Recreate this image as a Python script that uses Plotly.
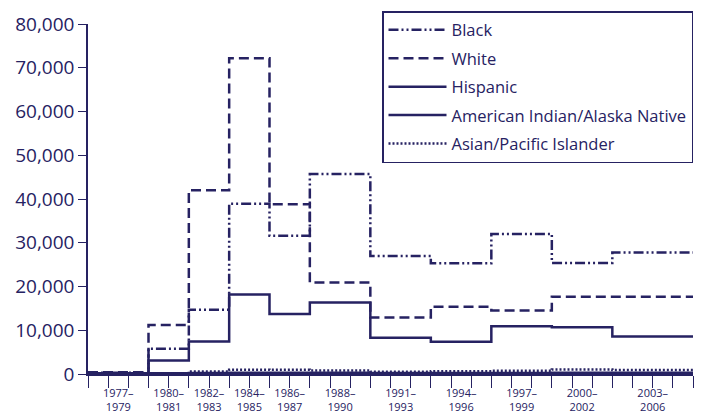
import plotly.graph_objects as go

# Period start years (step boundaries) and final end year
period_starts = [1977, 1980, 1982, 1984, 1986, 1988, 1991, 1994, 1997, 2000, 2003]
period_end = 2007
period_labels = ["1977–<br>1979", "1980–<br>1981", "1982–<br>1983", "1984–<br>1985",
                 "1986–<br>1987", "1988–<br>1990", "1991–<br>1993", "1994–<br>1996",
                 "1997–<br>1999", "2000–<br>2002", "2003–<br>2006"]

black = [300, 5800, 14700, 38900, 31600, 45700, 27000, 25300, 32000, 25400, 27800]
white = [400, 11200, 42000, 72200, 38800, 20900, 12900, 15400, 14500, 17650, 17650]
hispanic = [200, 3100, 7450, 18200, 13700, 16350, 8300, 7400, 10900, 10700, 8600]
am_indian = [150, 200, 250, 300, 300, 300, 250, 250, 250, 300, 300]
asian = [100, 150, 600, 1000, 950, 800, 500, 650, 750, 1050, 900]

NAVY = "#262262"
FONT = "Open Sans"

fig = go.Figure()

series = [
    ("Black", black, "10px,3px,2px,3px,2px,3px"),
    ("White", white, "10px,5px"),
    ("Hispanic", hispanic, "solid"),
    ("American Indian/Alaska Native", am_indian, "solid"),
    ("Asian/Pacific Islander", asian, "2px,2px"),
]

xs = period_starts + [period_end]
for name, vals, dash in series:
    ys = vals + [vals[-1]]
    fig.add_trace(go.Scatter(
        x=xs, y=ys, mode="lines", name=name, legendgroup=name,
        line=dict(color=NAVY, width=2.5, dash=dash, shape="hv"),
    ))

centers = [(a + b) / 2 + 0.001 for a, b in zip(period_starts, period_starts[1:] + [period_end])]

fig.update_layout(
    width=701, height=414,
    margin=dict(l=88, r=8, t=24, b=40, autoexpand=False),
    paper_bgcolor="white", plot_bgcolor="white",
    font=dict(family=FONT, color=NAVY),
    showlegend=True,
    legend=dict(
        xref="container", yref="container",
        x=382 / 701, y=1 - 11 / 414, xanchor="left", yanchor="top",
        bordercolor=NAVY, borderwidth=1.5, bgcolor="white",
        font=dict(size=16.5, family=FONT, color=NAVY),
        itemwidth=58, tracegroupgap=4,
    ),
    xaxis=dict(
        range=[1977, 2007], showgrid=False, zeroline=False, automargin=False,
        showline=True, linecolor=NAVY, linewidth=1.5,
        tickvals=centers, ticktext=period_labels,
        ticks="outside", ticklen=8, tickcolor="rgba(0,0,0,0)",
        tickfont=dict(size=11, color=NAVY),
        minor=dict(ticks="outside", tick0=1977, dtick=1, ticklen=12,
                   tickcolor=NAVY, tickwidth=1.2, showgrid=False),
    ),
    yaxis=dict(
        range=[0, 80000], showgrid=False, zeroline=False, automargin=False,
        showline=True, linecolor=NAVY, linewidth=1.5,
        tickvals=[0, 10000, 20000, 30000, 40000, 50000, 60000, 70000, 80000],
        ticktext=["0", "10,000", "20,000", "30,000", "40,000", "50,000",
                  "60,000", "70,000", "80,000"],
        ticks="outside", ticklen=8, tickcolor=NAVY, tickwidth=1.2,
        tickfont=dict(size=19, color=NAVY),
    ),
)

fig.write_html("out.html", config={"displayModeBar": False},
               post_script="document.body.style.margin='0px';")
